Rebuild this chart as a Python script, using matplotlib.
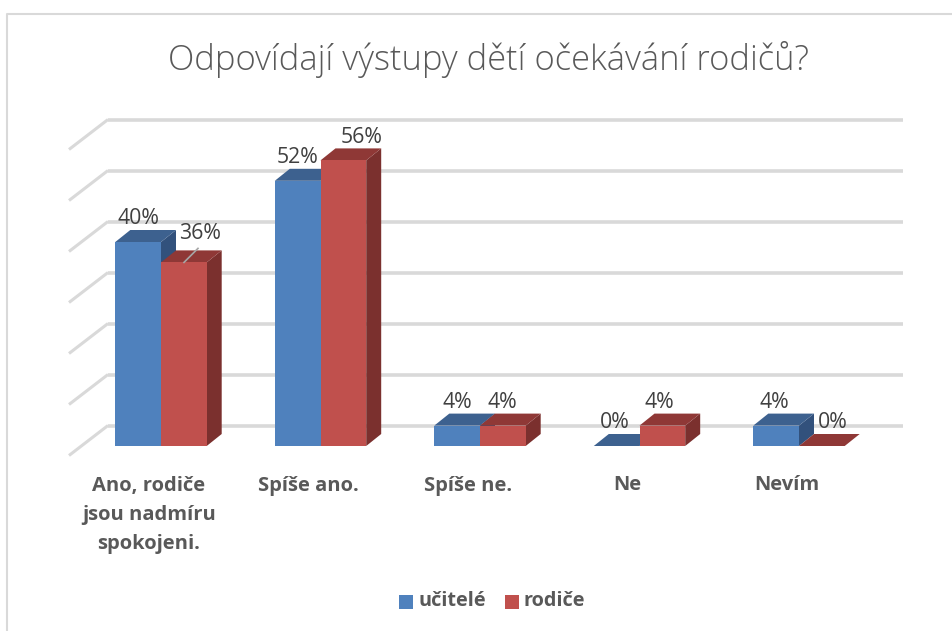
#!/usr/bin/env python3
"""Pseudo-3D clustered columns: Odpovídají výstupy dětí očekávání rodičů?"""

import matplotlib

matplotlib.use("Agg")
import matplotlib.pyplot as plt  # noqa: E402
from matplotlib.patches import Polygon, Rectangle  # noqa: E402

categories = ["Ano, rodiče\njsou nadmíru\nspokojeni.", "Spíše ano.", "Spíše ne.", "Ne", "Nevím"]
ucitele = [40, 52, 4, 0, 4]
rodice = [36, 56, 4, 4, 0]
grid_values = [0, 10, 20, 30, 40, 50, 60]

FONT = ["Open Sans", "DejaVu Sans"]
W, H = 953, 631
PX_X = 159.5  # pixels per category
PX_Y = 5.1  # pixels per percent
ORIGIN_X, ORIGIN_Y = 161, 446

BAR_W = 45.7 / PX_X
DEPTH_X = 15 / PX_X
DEPTH_Y = 12 / PX_Y

COLORS = {
    "blue": ("#4f81bd", "#3d618f", "#32517c"),
    "red": ("#c0504d", "#8f3836", "#7b302e"),
}
GRID = "#d9d9d9"
TEXT = "#404040"

# hand-placed label nudges, in pixels, as in the source chart
blue_nudge = [0, 0, 0, -2, -2]
red_nudge = [16, 18, -1, -3, 11]
red_lift = [6, 0, 0, 0, 0]


def box(ax, x0, value, palette, z):
    front, top, side = palette
    x1 = x0 + BAR_W
    ax.add_patch(Polygon(
        [(x1, 0), (x1 + DEPTH_X, DEPTH_Y), (x1 + DEPTH_X, value + DEPTH_Y), (x1, value)],
        fc=side, ec="none", zorder=z))
    ax.add_patch(Polygon(
        [(x0, value), (x0 + DEPTH_X, value + DEPTH_Y), (x1 + DEPTH_X, value + DEPTH_Y), (x1, value)],
        fc=top, ec="none", zorder=z))
    if value > 0:
        ax.add_patch(Rectangle((x0, 0), BAR_W, value, fc=front, ec="none", zorder=z))


def value_label(ax, x, v, dx, dy):
    ax.annotate(f"{v}%", (x, v), xytext=(dx, 23 + dy), textcoords="offset pixels",
                ha="center", va="center", fontsize=15.3, color=TEXT, family=FONT, zorder=5)


fig = plt.figure(figsize=(W / 100, H / 100), dpi=100)
ax = fig.add_axes([0, 0, 1, 1])
ax.set_xlim(-ORIGIN_X / PX_X, (W - ORIGIN_X) / PX_X)
ax.set_ylim(-(H - ORIGIN_Y) / PX_Y, ORIGIN_Y / PX_Y)
ax.axis("off")

# chart frame, open on the right
fig.add_artist(plt.Line2D([7 / W, 7 / W, 1], [0, 1 - 14 / H, 1 - 14 / H], color=GRID, lw=1.5))

# back wall gridlines and left wall ticks
wall_dy = 20.5 / PX_Y
for v in grid_values:
    y = v + wall_dy
    ax.plot([-53 / PX_X, 742 / PX_X], [y, y], color=GRID, lw=2.6, solid_capstyle="butt", zorder=1)
    ax.plot([-92 / PX_X, -53 / PX_X], [y - 30 / PX_Y, y], color=GRID, lw=2.2,
            solid_capstyle="butt", zorder=1)

for i, (a, b) in enumerate(zip(ucitele, rodice)):
    box(ax, i - BAR_W, a, COLORS["blue"], 2 + i * 0.1)
    box(ax, i, b, COLORS["red"], 2.05 + i * 0.1)

    value_label(ax, i - BAR_W / 2, a, blue_nudge[i], 0)
    value_label(ax, i + BAR_W / 2, b, red_nudge[i], red_lift[i])

    ax.text(i - 12 / PX_X, -29.5 / PX_Y, categories[i], ha="center", va="top", fontsize=14.5,
            fontweight="bold", color="#595959", family=FONT, linespacing=1.62, zorder=5)

# leader line on the 36 % label
ax.plot([23 / PX_X, 37 / PX_X], [rodice[0], rodice[0] + 2.75], color="#a6a6a6", lw=1.2, zorder=6)

fig.text(489 / W, 1 - 60 / H, "Odpovídají výstupy dětí očekávání rodičů?", ha="center", va="center",
         fontsize=24.85, fontweight="light", color="#595959", family=FONT)

# legend
for x, tx, label, col in ((399, 419, "učitelé", COLORS["blue"][0]), (505, 524, "rodiče", COLORS["red"][0])):
    fig.add_artist(Rectangle((x / W, 1 - 609 / H), 14 / W, 14 / H, fc=col, ec="none",
                             transform=fig.transFigure))
    fig.text(tx / W, 1 - 601 / H, label, ha="left", va="center", fontsize=14.3, fontweight="bold",
             color="#595959", family=FONT)

fig.savefig("out.png", dpi=100)
plt.close(fig)
